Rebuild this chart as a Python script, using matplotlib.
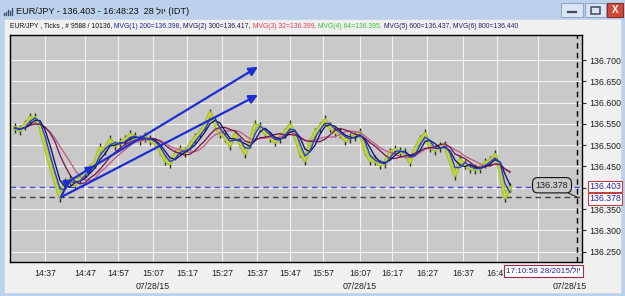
import numpy as np
import pandas as pd
import matplotlib
matplotlib.use("Agg")
import matplotlib.pyplot as plt
import matplotlib.transforms as mtransforms
from matplotlib.patches import Rectangle
from matplotlib.colors import LinearSegmentedColormap

W, H = 625, 296
NARROW = ["Liberation Sans Narrow", "Liberation Sans", "DejaVu Sans"]
SANS = ["Liberation Sans", "DejaVu Sans"]

# ---- data (one sample ~ 100 ticks) ----
price = [136.540, 136.536, 136.547, 136.564, 136.564, 136.545, 136.500, 136.456, 136.418, 136.378,
         136.411, 136.418, 136.407, 136.423, 136.435, 136.446, 136.458, 136.493, 136.489, 136.512,
         136.500, 136.505, 136.512, 136.524, 136.519, 136.512, 136.519, 136.512, 136.505, 136.489,
         136.465, 136.458, 136.477, 136.489, 136.484, 136.500, 136.517, 136.529, 136.547, 136.575,
         136.552, 136.529, 136.519, 136.500, 136.524, 136.505, 136.482, 136.505, 136.547, 136.543,
         136.529, 136.519, 136.508, 136.517, 136.529, 136.547, 136.524, 136.484, 136.465, 136.505,
         136.529, 136.543, 136.559, 136.543, 136.531, 136.529, 136.512, 136.517, 136.522, 136.529,
         136.489, 136.465, 136.465, 136.454, 136.458, 136.482, 136.489, 136.484, 136.482, 136.461,
         136.489, 136.512, 136.526, 136.496, 136.489, 136.496, 136.500, 136.465, 136.430, 136.465,
         136.454, 136.446, 136.444, 136.446, 136.458, 136.463, 136.477, 136.442, 136.378, 136.400]

ma_names = ["MVG(1) 200", "MVG(2) 300", "MVG(5) 600", "MVG(6) 800"]
ma_windows = [2, 3, 6, 8]          # ticks / ~100 ticks per sample
ma_colors = ["#2638e0", "#14145e", "#7a1a50", "#c0608a"]

time_ticks = [6, 14, 20.6, 27.6, 34.4, 41.4, 48.4, 55, 61.6, 69, 75.4, 82.4, 89.6, 96.4, 104.6]
time_labels = ["14:37", "14:47", "14:57", "15:07", "15:17", "15:27", "15:37", "15:47",
               "15:57", "16:07", "16:17", "16:27", "16:37", "16:47", "16:57"]
date_ticks = [27.6, 69, 111]
date_label = "07/28/15"

y_grid = [136.25, 136.30, 136.35, 136.40, 136.45, 136.50, 136.55, 136.60, 136.65, 136.70]
y_hidden = [136.40]

last_price = 136.403
low_price = 136.378
cursor_x = 112.4

# hand-drawn trend arrows (bar index, price)
trend_start = (9.2, 136.378)
upper_kink = (10.6, 136.414)
upper_end = (48.6, 136.684)
lower_end = (48.6, 136.618)
marker_x = [11.4, 15.8]

header_parts = [
    ("EUR/JPY , Ticks , # 9588 / 10136,", "#101010"),
    ("MVG(1) 200=136.398,", "#26269a"),
    ("MVG(2) 300=136.417,", "#1a1a50"),
    ("MVG(3) 32=136.399,", "#e0405a"),
    ("MVG(4) 64=136.395,", "#3cc03c"),
    ("MVG(5) 600=136.437, MVG(6) 800=136.440", "#2a1e5e"),
]

fig = plt.figure(figsize=(W / 100, H / 100), dpi=100)

# ---- window chrome, pixel coordinates ----
bg = fig.add_axes([0, 0, 1, 1], zorder=-5)
bg.add_patch(Rectangle((0, 0), W, H, color="#bcd2ec"))
grad = np.linspace(0, 1, 30)[:, None]
cm = LinearSegmentedColormap.from_list("tb", ["#e6eefa", "#c3d6ee"])
bg.imshow(grad, extent=(0, W, 21, 0), cmap=cm, aspect="auto")
bg.add_patch(Rectangle((5, 20), W - 10, H - 24, color="#f0f0f0"))
bg.set_xlim(0, W); bg.set_ylim(H, 0); bg.axis("off")

# title bar icon + text
for i, hgt in enumerate([2, 3, 5, 4, 7]):
    bg.plot([4 + 2 * i, 4 + 2 * i], [15, 15 - hgt], color="#3a4a66", lw=0.9)
bg.text(16, 11, "EUR/JPY - 136.403 - 16:48:23  28 לוי (IDT)", fontsize=6.6,
        family=SANS, va="center", ha="left", color="#101010")

# min / max / close buttons
bg.add_patch(Rectangle((561, 3), 22, 14, fc="#dbe6f4", ec="#8ea8c8", lw=0.8))
bg.plot([568, 576], [12, 12], color="#3c4a60", lw=1.6)
bg.add_patch(Rectangle((585, 3), 21, 14, fc="#dbe6f4", ec="#8ea8c8", lw=0.8))
bg.add_patch(Rectangle((591, 7), 9, 7, fc="none", ec="#3c4a60", lw=1.1))
bg.add_patch(Rectangle((607, 3), 16, 14, fc="#cf4a3a", ec="#8a2a20", lw=0.8))
bg.text(615, 10, "X", color="white", fontsize=7, fontweight="bold",
        ha="center", va="center", family=SANS)

# ---- price chart ----
ax = fig.add_axes([10 / W, 1 - 262 / H, 572 / W, 227 / H])
ax.set_facecolor("#c9c9c9")
for s in ax.spines.values():
    s.set_color("#000000"); s.set_linewidth(1.0)

x = np.arange(len(price))
p = np.array(price)
ax.vlines(x, p - 0.011, p + 0.011, color="#33300c", lw=1.0, zorder=3)
ax.plot(x, p, color="#9cc83a", lw=3.0, zorder=3)
ax.plot(x, p, color="#e2d23c", lw=0.9, zorder=3)

ser = pd.Series(price)
for w, c in zip(ma_windows[::-1], ma_colors[::-1]):
    ax.plot(x, ser.rolling(w, min_periods=1).mean(), color=c, lw=0.95, zorder=4)

# reference levels
ax.axhline(last_price, color="#4848d8", lw=1.0, dashes=(4, 3), zorder=2)
ax.axhline(low_price, color="#404040", lw=1.0, dashes=(4, 3), zorder=2)
ax.axvline(cursor_x, color="#000000", lw=1.0, dashes=(4, 3), zorder=5)

# trend arrows
tc = "#1c2ed2"
ax.plot([trend_start[0], upper_kink[0]], [trend_start[1], upper_kink[1]], color=tc, lw=1.6, zorder=6)
for a, b in [(upper_kink, upper_end), (trend_start, lower_end)]:
    ax.annotate("", xy=b, xytext=a, zorder=6,
                arrowprops=dict(arrowstyle="-|>", color=tc, lw=1.6, mutation_scale=13,
                                shrinkA=0, shrinkB=0))
slope = (upper_end[1] - upper_kink[1]) / (upper_end[0] - upper_kink[0])
for mx in marker_x:
    my = upper_kink[1] + slope * (mx - upper_kink[0])
    ax.annotate("", xy=(mx, my), xytext=(mx - 1.0, my - slope * 1.0), zorder=6,
                arrowprops=dict(arrowstyle="-|>", color=tc, lw=1.2, mutation_scale=12,
                                shrinkA=0, shrinkB=0))

ax.annotate(f"{low_price:.3f}", xy=(cursor_x, low_price), xytext=(107.4, 136.406),
            fontsize=6.5, family=NARROW, color="#202020", ha="center", va="center", zorder=7,
            bbox=dict(boxstyle="round,pad=0.35,rounding_size=0.6", fc="#c9c9c9", ec="#101010", lw=0.8),
            arrowprops=dict(arrowstyle="-", color="#202020", lw=0.8, shrinkA=0, shrinkB=0))

ax.set_xlim(-1, 113.4)
ax.set_ylim(136.2258, 136.7587)
ax.set_xticks(time_ticks)
ax.set_xticklabels(time_labels)
ax.set_yticks(y_grid)
ax.set_yticklabels(["" if v in y_hidden else f"{v:.3f}" for v in y_grid])
ax.yaxis.tick_right()
ax.tick_params(axis="x", length=0, pad=5, labelsize=6.3, labelcolor="#202020")
ax.tick_params(axis="y", length=3, pad=2, labelsize=6.3, labelcolor="#202020", color="#303030")
for lab in ax.get_xticklabels() + ax.get_yticklabels():
    lab.set_family(NARROW)
ax.grid(True, color="#f4f4f4", lw=0.8)
ax.set_axisbelow(True)

blend = mtransforms.blended_transform_factory(ax.transData, ax.transAxes)
for d in date_ticks:
    ax.text(d, -0.11, date_label, transform=blend, ha="center", va="center",
            fontsize=6.3, family=NARROW, color="#202020")

blend_y = mtransforms.blended_transform_factory(ax.transAxes, ax.transData)
for v, dy in [(last_price, 0.0), (low_price, -0.004)]:
    ax.text(1.012, v + dy, f"{v:.3f}", transform=blend_y, ha="left", va="center",
            fontsize=6.3, family=NARROW, color="#2424b0", zorder=8,
            bbox=dict(boxstyle="square,pad=0.15", fc="white", ec="#c04040", lw=0.8))

fig.text(506 / W, 1 - 271 / H, "17:10:58 28/2015/לוי", ha="left", va="center",
         fontsize=5.9, family=NARROW, color="#2424a0", zorder=10,
         bbox=dict(boxstyle="square,pad=0.25", fc="white", ec="#a02a4a", lw=0.8))

# ---- multi-coloured header row ----
r = fig.canvas.get_renderer()
hx = 10
for s, c in header_parts:
    t = fig.text(hx / W, 1 - 26 / H, s, color=c, fontsize=4.85, family=NARROW,
                 ha="left", va="center")
    hx += t.get_window_extent(renderer=r).width + 2

fig.savefig("out.png", dpi=100)
